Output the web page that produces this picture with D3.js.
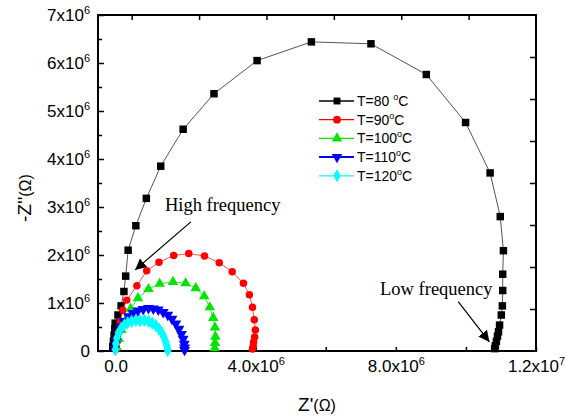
<!DOCTYPE html>
<html>
<head>
<meta charset="utf-8">
<script src="https://cdn.jsdelivr.net/npm/d3@7"></script>
<style>
  body { margin: 0; background: #fff; }
  text { font-family: "Liberation Sans", Arial, sans-serif; }
</style>
</head>
<body>
<svg id="chart" width="566" height="420"></svg>
<script>
// values in 10^6 ohm
let zRe80 = [-0.08, -0.06, -0.04, -0.02, -0.01, 0.07, 0.16, 0.24, 0.29, 0.36, 0.58, 0.88, 1.29, 1.93, 2.81, 4.04, 5.59, 7.29, 8.87, 9.99, 10.69, 10.98, 11.07, 11.05, 11.05, 11.04, 11.01, 10.96, 10.93, 10.9, 10.87, 10.84, 10.82];
let zIm80 = [0.09, 0.2, 0.33, 0.46, 0.58, 0.75, 0.94, 1.24, 1.56, 2.10, 2.61, 3.18, 3.85, 4.62, 5.36, 6.05, 6.44, 6.40, 5.76, 4.76, 3.71, 2.80, 2.09, 1.60, 1.26, 0.94, 0.75, 0.54, 0.40, 0.31, 0.20, 0.11, 0.05];

let zRe90 = [0.03, 0.05, 0.09, 0.14, 0.21, 0.32, 0.61, 0.89, 1.24, 1.66, 2.09, 2.54, 2.96, 3.33, 3.65, 3.82, 3.91, 3.96, 3.99, 3.97, 3.94, 3.93, 3.91];
let zIm90 = [0.04, 0.2, 0.4, 0.62, 0.85, 1.06, 1.36, 1.67, 1.85, 1.99, 2.03, 1.98, 1.84, 1.65, 1.41, 1.17, 0.91, 0.65, 0.44, 0.29, 0.19, 0.10, 0.04];

let zRe100 = [0.03, 0.09, 0.17, 0.29, 0.43, 0.64, 0.94, 1.26, 1.64, 2.0, 2.29, 2.53, 2.69, 2.79, 2.84, 2.85, 2.84, 2.83];
let zIm100 = [0.08, 0.25, 0.44, 0.65, 0.88, 1.10, 1.29, 1.40, 1.44, 1.41, 1.31, 1.14, 0.91, 0.69, 0.49, 0.30, 0.17, 0.06];

let zRe110 = [-0.02, 0.02, 0.08, 0.15, 0.25, 0.37, 0.50, 0.64, 0.79, 0.94, 1.08, 1.22, 1.36, 1.49, 1.61, 1.72, 1.81, 1.88, 1.93, 1.96, 1.97, 1.97];
let zIm110 = [0.05, 0.20, 0.35, 0.50, 0.62, 0.72, 0.79, 0.84, 0.87, 0.89, 0.88, 0.86, 0.81, 0.75, 0.67, 0.57, 0.46, 0.35, 0.25, 0.15, 0.07, 0.02];

let zRe120 = [0.0, 0.01, 0.04, 0.09, 0.16, 0.25, 0.35, 0.46, 0.58, 0.70, 0.82, 0.94, 1.05, 1.15, 1.24, 1.32, 1.38, 1.43, 1.46, 1.48, 1.49];
let zIm120 = [0.03, 0.15, 0.27, 0.38, 0.47, 0.54, 0.59, 0.62, 0.64, 0.63, 0.64, 0.62, 0.58, 0.53, 0.46, 0.38, 0.29, 0.20, 0.12, 0.05, 0.01];

let legendNames = ["T=80 ", "T=90", "T=100", "T=110", "T=120"];
let couleurs = ["#000000", "#ff0000", "#00e600", "#0000ff", "#00ffff"];
let couleursLigne = ["#555555", "#ff5050", "#40e040", "#0000ff", "#00ffff"];

let yTicksMajor = [0, 1, 2, 3, 4, 5, 6, 7];
let yTicksMinor = [0.5, 1.5, 2.5, 3.5, 4.5, 5.5, 6.5];
let xTicks = [0, 2, 4, 6, 8, 10, 12];
let xTickLabels = { 0: ["0.0", ""], 4: ["4.0x10", "6"], 8: ["8.0x10", "6"], 12: ["1.2x10", "7"] };

function zip(a, b) {
    return a.map((v, i) => ({ x: v, y: b[i] }));
}

let series = [
    { pts: zip(zRe80, zIm80), sym: d3.symbolSquare, size: 56, rot: 0 },
    { pts: zip(zRe90, zIm90), sym: d3.symbolCircle, size: 44, rot: 0 },
    { pts: zip(zRe100, zIm100), sym: d3.symbolTriangle, size: 48, rot: 0 },
    { pts: zip(zRe110, zIm110), sym: d3.symbolTriangle, size: 52, rot: 180 },
    { pts: zip(zRe120, zIm120), sym: d3.symbolDiamond, size: 52, rot: 0 },
];

let svg = d3.select("#chart");
let L = 98, R = 536, T = 15, B = 351;

let x = d3.scaleLinear().domain([-0.5, 12]).range([L, R]);
let y = d3.scaleLinear().domain([0, 7]).range([B, T]);
// the mirrored axes of the original have their own spacing
let xTop = d3.scaleLinear().domain([-0.5, 6]).range([L, R]);
let yRight = d3.scaleLinear().domain([0, 8]).range([B, T]);

// left axis
let gLeft = svg.append("g").attr("transform", `translate(${L},0)`)
    .call(d3.axisLeft(y).tickValues(yTicksMajor).tickSize(-6).tickPadding(8));
gLeft.select(".domain").remove();
gLeft.selectAll("text")
    .style("font-size", "17px")
    .each(function (d) {
        let t = d3.select(this);
        t.text(null);
        if (d == 0) {
            t.append("tspan").text("0");
        } else {
            t.append("tspan").text(d + "x10");
            t.append("tspan").attr("dy", "-7").style("font-size", "11px").text("6");
        }
    });
svg.append("g").attr("transform", `translate(${L},0)`)
    .call(d3.axisLeft(y).tickValues(yTicksMinor).tickSize(-4).tickFormat(""))
    .select(".domain").remove();

// bottom axis
let gBottom = svg.append("g").attr("transform", `translate(0,${B})`)
    .call(d3.axisBottom(x).tickValues(xTicks).tickSize(-4).tickPadding(9));
gBottom.select(".domain").remove();
gBottom.selectAll("text")
    .style("font-size", "17px")
    .each(function (d) {
        let t = d3.select(this);
        t.text(null);
        let lab = xTickLabels[d];
        if (!lab) return;
        t.append("tspan").text(lab[0]);
        if (lab[1] != "") {
            t.append("tspan").attr("dy", "-7").style("font-size", "11px").text(lab[1]);
        }
    });

// top and right ticks
svg.append("g").attr("transform", `translate(0,${T})`)
    .call(d3.axisTop(xTop).tickValues([0, 1, 2, 3, 4, 5]).tickSize(-5).tickFormat(""))
    .select(".domain").remove();
svg.append("g").attr("transform", `translate(${R},0)`)
    .call(d3.axisRight(yRight).tickValues([1, 2, 3, 4, 5, 6, 7]).tickSize(-6).tickFormat(""))
    .select(".domain").remove();

svg.selectAll(".tick line").attr("stroke", "#000").attr("stroke-width", 1.5);

svg.append("rect")
    .attr("x", L).attr("y", T)
    .attr("width", R - L).attr("height", B - T)
    .attr("fill", "none")
    .attr("stroke", "#000")
    .attr("stroke-width", 2);

// axis titles
let xt = svg.append("text")
    .attr("x", (L + R) / 2).attr("y", 411)
    .attr("text-anchor", "middle")
    .style("font-size", "19px");
xt.append("tspan").text("Z'");
xt.append("tspan").style("font-size", "16px").text("(Ω)");

let yt = svg.append("text")
    .attr("transform", "translate(31,198) rotate(-90)")
    .attr("text-anchor", "middle")
    .style("font-size", "19px");
yt.append("tspan").text("-Z''");
yt.append("tspan").style("font-size", "16px").text("(Ω)");

// curves
let ligne = d3.line().x((d) => x(d.x)).y((d) => y(d.y));

series.forEach((s, i) => {
    let g = svg.append("g").attr("class", "serie" + i);
    g.append("path")
        .attr("d", ligne(s.pts))
        .attr("fill", "none")
        .attr("stroke", couleursLigne[i])
        .attr("stroke-width", 1);
    g.selectAll("path.pt")
        .data(s.pts)
        .enter()
        .append("path")
        .attr("class", "pt")
        .attr("d", d3.symbol().type(s.sym).size(s.size))
        .attr("transform", (d) => `translate(${x(d.x)},${y(d.y)}) rotate(${s.rot})`)
        .attr("fill", couleurs[i]);
});

// legend
let legend = svg.append("g").attr("class", "legende");
legendNames.forEach((nom, i) => {
    let ly = 101 + i * 18.7;
    legend.append("line")
        .attr("x1", 319).attr("x2", 354)
        .attr("y1", ly).attr("y2", ly)
        .attr("stroke", couleurs[i])
        .attr("stroke-width", i == 3 ? 2 : 1.3);
    legend.append("path")
        .attr("d", d3.symbol().type(series[i].sym).size(48))
        .attr("transform", `translate(337,${ly}) rotate(${series[i].rot})`)
        .attr("fill", couleurs[i]);
    let t = legend.append("text")
        .attr("x", 357).attr("y", ly + 5)
        .style("font-size", "14px");
    t.append("tspan").text(nom);
    t.append("tspan").attr("dy", "-6").style("font-size", "9px").text("o");
    t.append("tspan").attr("dy", "6").text("C");
});

// annotations
svg.append("defs").append("marker")
    .attr("id", "fleche")
    .attr("viewBox", "0 0 10 10")
    .attr("refX", 10).attr("refY", 5)
    .attr("markerWidth", 11).attr("markerHeight", 11)
    .attr("markerUnits", "userSpaceOnUse")
    .attr("orient", "auto")
    .append("path")
    .attr("d", "M0,0 L10,5 L0,10 z")
    .attr("fill", "#000");

svg.append("text")
    .attr("x", x(1.41)).attr("y", y(2.92))
    .style("font-family", "'Liberation Serif', 'Times New Roman', serif")
    .style("font-size", "18.5px")
    .text("High frequency");
svg.append("line")
    .attr("x1", x(2.15)).attr("y1", y(2.69))
    .attr("x2", x(0.56)).attr("y2", y(1.69))
    .attr("stroke", "#000").attr("stroke-width", 1.2)
    .attr("marker-end", "url(#fleche)");

svg.append("text")
    .attr("x", x(10.76)).attr("y", y(1.17))
    .attr("text-anchor", "end")
    .style("font-family", "'Liberation Serif', 'Times New Roman', serif")
    .style("font-size", "18.5px")
    .text("Low frequency");
svg.append("line")
    .attr("x1", x(9.78)).attr("y1", y(1.03))
    .attr("x2", x(10.67)).attr("y2", y(0.19))
    .attr("stroke", "#000").attr("stroke-width", 1.2)
    .attr("marker-end", "url(#fleche)");
</script>
</body>
</html>
